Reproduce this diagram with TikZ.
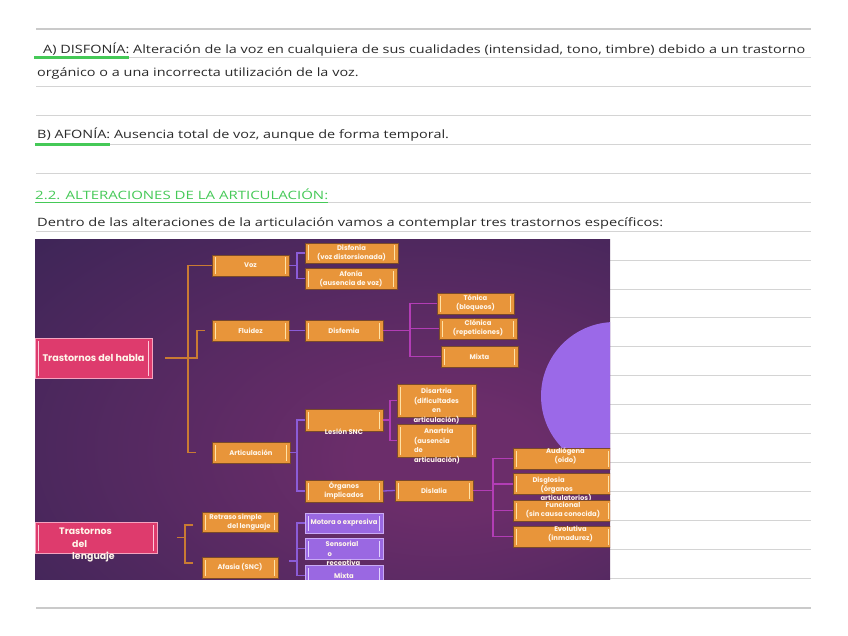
\documentclass[tikz,border=0pt]{standalone}
\usepackage{fontspec}
\usepackage{graphicx}
\setmainfont{Open Sans}
\newfontfamily\boxfont{Poppins}
\usetikzlibrary{calc}
\newlength\Lw
\newcommand\txtfont{\fontsize{11.5}{14}\selectfont}
\definecolor{bgdark}{HTML}{2C2250}
\definecolor{bgmid}{HTML}{6B2D6A}
\definecolor{orfill}{HTML}{E8953A}
\definecolor{oredge}{HTML}{7A4A2A}
\definecolor{orbar}{HTML}{FFE2A6}
\definecolor{pkfill}{HTML}{DE3B6D}
\definecolor{pkedge}{HTML}{F5A3BF}
\definecolor{pkbar}{HTML}{FFC8DA}
\definecolor{pufill}{HTML}{9A68E2}
\definecolor{puedge}{HTML}{C9AAF5}
\definecolor{pubar}{HTML}{E2D2FF}
\definecolor{lnor}{HTML}{C97B33}
\definecolor{lnpu}{HTML}{8B5CD8}
\definecolor{lnmg}{HTML}{B23DB5}
\definecolor{circc}{HTML}{9B69E8}
\definecolor{rulec}{HTML}{D4D4D4}
\definecolor{rulek}{HTML}{CACACA}
\definecolor{grn}{HTML}{45C957}
\definecolor{ink}{HTML}{2A2A2A}
\definecolor{boxtxt}{HTML}{FFF6EA}
\pgfdeclareradialshading{bgsh}{\pgfpoint{12bp}{-8bp}}{color(0bp)=(bgmid);color(8bp)=(bgmid);color(58bp)=(bgdark);color(100bp)=(bgdark)}
\tikzset{
  bx/.style={inner sep=0pt, outer sep=0pt, line width=0.8pt, align=center, text=boxtxt,
    font=\boxfont\bfseries\fontsize{6.8}{9}\selectfont},
  bars/.style={path picture={\draw[#1, line width=1.1pt]
    ([xshift=3.5pt,yshift=2.5pt]path picture bounding box.south west) -- ([xshift=3.5pt,yshift=-2.5pt]path picture bounding box.north west)
    ([xshift=-3.5pt,yshift=2.5pt]path picture bounding box.south east) -- ([xshift=-3.5pt,yshift=-2.5pt]path picture bounding box.north east);}},
  obox/.style={bx, fill=orfill, draw=oredge, bars=orbar},
  pbox/.style={bx, fill=pufill, draw=puedge, bars=pubar},
  kbox/.style={bx, fill=pkfill, draw=pkedge, bars=pkbar, font=\boxfont\bfseries\fontsize{9.6}{12.5}\selectfont},
  sz/.style 2 args={minimum width=#1pt, minimum height=#2pt},
  lor/.style={draw=lnor, line width=1.3pt},
  lpu/.style={draw=lnpu, line width=1.3pt},
  lmg/.style={draw=lnmg, line width=1.3pt},
  btxt/.style={inner sep=0pt, align=center, text=boxtxt, font=\boxfont\bfseries\fontsize{6.8}{9.4}\selectfont},
  ktxt/.style={inner sep=0pt, align=left, text=boxtxt, font=\boxfont\bfseries\fontsize{9.4}{12.5}\selectfont},
  ptxt/.style={inner sep=0pt, text=ink, font=\txtfont},
}
\def\txtA{A) DISFONÍA: Alteración de la voz en cualquiera de sus cualidades (intensidad, tono, timbre) debido a un trastorno}
\begin{document}
\settowidth{\Lw}{\txtfont\txtA}%
\pgfmathsetmacro\sx{762/\Lw}%
\begin{tikzpicture}[x=1pt,y=-1pt]
\useasboundingbox (0,0) rectangle (848,636);
\fill[white] (0,0) rectangle (848,636);
% ruled lines
\foreach \k in {1,...,19}{\draw[rulec, line width=0.9pt] (36,{28.9+28.9*\k}) -- (811,{28.9+28.9*\k});}
\draw[rulek, line width=2pt] (36,29) -- (811,29);
\draw[rulek, line width=2.2pt] (36,608) -- (811,608);
% texts
\node[ptxt, anchor=base west] (tA) at (43,54) {\scalebox{\sx}[1]{\txtA}};
\node[ptxt, anchor=base west] (tA2) at (37,77) {\scalebox{\sx}[1]{orgánico o a una incorrecta utilización de la voz.}};
\node[ptxt, anchor=base west] (tB) at (37,139) {\scalebox{\sx}[1]{B) AFONÍA: Ausencia total de voz, aunque de forma temporal.}};
\node[ptxt, anchor=base west, text=grn] (tC) at (35,200) {\resizebox{293pt}{\height}{2.2. ALTERACIONES DE LA ARTICULACIÓN:}};
\node[ptxt, anchor=base west] (tD) at (37,227) {\resizebox{626pt}{\height}{Dentro de las alteraciones de la articulación vamos a contemplar tres trastornos específicos:}};
\draw[grn, line width=2.3pt] (34,57.5) -- (129,57.5);
\draw[grn, line width=2.3pt] (35,144.5) -- (110,144.5);
\draw[grn, line width=1pt] (tC.south west |- 0,203) -- (tC.south east |- 0,203);
% diagram
\begin{scope}
\clip (35,240) rectangle (610,579);
\shade[shading=bgsh] (35,240) rectangle (610,579);
\fill[circc] (615,396) circle (74pt);
% boxes
\node[kbox, sz={117}{40}] (habla) at (93.5,358) {Trastornos del habla};
\node[kbox, sz={122}{31}] (lenguaje) at (96,537.5) {};
\node[ktxt] (lenguajeT) at (87,545) {Trastornos\\\hspace*{13pt}del\\\hspace*{13pt}lenguaje};
\node[obox, sz={77}{21}] (voz) at (250.5,265.5) {Voz};
\node[obox, sz={77}{21}] (fluidez) at (250.5,330.5) {Fluidez};
\node[obox, sz={78}{21}] (artic) at (251,452.5) {Articulación};
\node[obox, sz={93}{20}] (disfonia) at (351.5,253) {Disfonía\\(voz distorsionada)};
\node[obox, sz={92}{21}] (afonia) at (351,278.5) {Afonía\\(ausencia de voz)};
\node[obox, sz={78}{21}] (disfemia) at (344,330.5) {Disfemia};
\node[obox, sz={77}{21}] (tonica) at (475.5,303.5) {Tónica\\(bloqueos)};
\node[obox, sz={78}{21}] (clonica) at (478,328.5) {Clónica\\(repeticiones)};
\node[obox, sz={77}{21}] (mixtaA) at (479.5,356.5) {Mixta};
\node[obox, sz={78}{22}] (lesion) at (344,420) {};
\node[obox, sz={78}{22}] (organos) at (344,491) {Órganos\\implicados};
\node[obox, sz={79}{33}] (disartria) at (436.5,400.5) {};
\node[obox, sz={79}{33}] (anartria) at (436.5,440.5) {};
\node[btxt] (disartriaT) at (436.5,406) {Disartria\\(dificultades\\en\\articulación)};
\node[btxt, align=left] (anartriaT) at (437,446) {\hspace*{10pt}Anartria\\(ausencia\\de\\articulación)};
\node[btxt] (lesionT) at (344,432) {Lesión SNC};
\node[obox, sz={78}{21}] (dislalia) at (434,490.5) {Dislalia};
\node[obox, sz={99}{21}] (audiogena) at (562.5,458.5) {};
\node[btxt] (audiogenaT) at (565.5,456) {Audiógena\\(oído)};
\node[obox, sz={99}{21}] (disglosia) at (562.5,484) {};
\node[btxt, align=left] (disglosiaT) at (562,489.5) {Disglosia\\\hspace*{8pt}(órganos\\\hspace*{8pt}articulatorios)};
\node[obox, sz={99}{21}] (funcional) at (562.5,510.5) {};
\node[btxt] (funcionalT) at (563,510) {Funcional\\(sin causa conocida)};
\node[obox, sz={99}{21}] (evolutiva) at (562.5,536.5) {};
\node[btxt] (evolutivaT) at (570.5,534) {Evolutiva\\(inmadurez)};
\node[obox, sz={76}{20}, align=left] (retraso) at (240,522) {Retraso simple\\\hspace*{18pt}del lenguaje};
\node[obox, sz={76}{21}] (afasia) at (240,567.5) {Afasia (SNC)};
\node[pbox, sz={78}{20}] (motora) at (344,523) {Motora o expresiva};
\node[pbox, sz={78}{21}] (sensorial) at (344,548.5) {};
\node[btxt, align=left] (sensorialT) at (343,554.5) {Sensorial\\\hspace*{2pt}o\\\hspace*{1pt}receptiva};
\node[pbox, sz={78}{21}] (mixtaB) at (344,575.5) {Mixta};
% connectors
\coordinate (spx) at (188,0);
\coordinate (flx) at (197,0);
\draw[lor] (voz.west) -- (spx |- voz.west) -- (spx |- artic.west) -- ([xshift=-16pt]artic.west);
\draw[lor] ([xshift=13pt]habla.east) -- (flx |- habla.east) -- (flx |- fluidez.west) -- ([xshift=-7pt]fluidez.west);
\draw[lpu] (voz.east) -- ++(8,0) coordinate (vj) (disfonia.west) -| (vj) |- (afonia.west);
\draw[lpu] (fluidez.east) -- (disfemia.west);
\draw[lpu] (artic.east) -- ++(7,0) coordinate (aj) (lesion.west) -| (aj) |- (organos.west);
\draw[lpu] (organos.east) -- (dislalia.west);
\draw[lmg] (disfemia.east) -- ++(27,0) coordinate (dj) (tonica.west) -| (dj) |- (mixtaA.west) (clonica.west) -- (clonica.west -| dj);
\draw[lmg] (lesion.east) -- ++(7,0) coordinate (lj) (disartria.west) -| (lj) |- (anartria.west);
\draw[lmg] (dislalia.east) -- ++(20,0) coordinate (sj) (audiogena.west) -| (sj) |- (evolutiva.west) (disglosia.west) -- (disglosia.west -| sj) (funcional.west) -- (funcional.west -| sj);
\coordinate (lb) at (185,537.5);
\coordinate (lbT) at (193,525);
\coordinate (lbB) at (193,563);
\draw[lor] ([xshift=20pt]lenguaje.east) -- (lb) (lbT) -| (lb) |- (lbB);
\coordinate (fj) at (297,561);
\draw[lpu] ([xshift=11pt,yshift=6.5pt]afasia.east) -- (fj) (motora.west) -| (fj) (sensorial.west) -| (fj) (mixtaB.west) -| (fj);
\end{scope}
\end{tikzpicture}
\end{document}
